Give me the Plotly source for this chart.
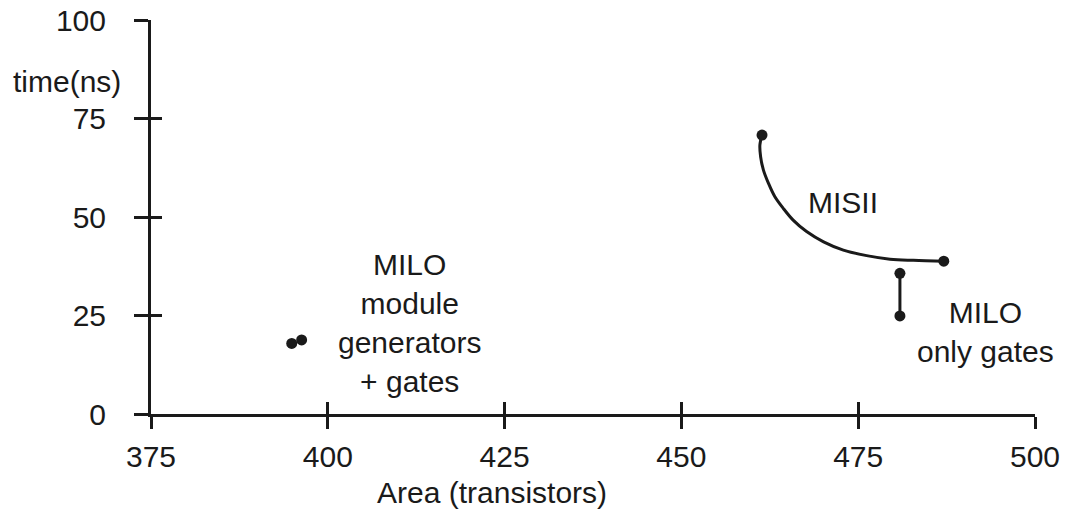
import plotly.graph_objects as go

# ---- data ----
x_ticks = [375, 400, 425, 450, 475, 500]
y_ticks = [0, 25, 50, 75, 100]

milo_mod_x = [394.9, 396.3]
milo_mod_y = [17.9, 18.8]

misii_x = [461.4, 461.1, 461.2, 461.6, 462.3, 463.2, 464.4, 465.8, 467.7,
           470.1, 472.9, 476.2, 479.5, 482.8, 487.1]
misii_y = [70.8, 68.3, 65.3, 61.9, 58.6, 55.2, 52.2, 49.2, 46.3,
           43.7, 41.6, 40.2, 39.3, 39.0, 38.8]

milo_gates_x = [480.9, 480.9]
milo_gates_y = [35.7, 24.9]

INK = "#1a1a1a"
FONT = "Liberation Sans, Arial, Helvetica, sans-serif"
FS = 30

fig = go.Figure()

fig.add_trace(go.Scatter(x=milo_mod_x, y=milo_mod_y, mode="markers",
                         marker=dict(size=11, color=INK), showlegend=False,
                         cliponaxis=False))
fig.add_trace(go.Scatter(x=misii_x, y=misii_y, mode="lines",
                         line=dict(color=INK, width=3, shape="spline"),
                         showlegend=False))
fig.add_trace(go.Scatter(x=[misii_x[0], misii_x[-1]], y=[misii_y[0], misii_y[-1]],
                         mode="markers", marker=dict(size=11, color=INK),
                         showlegend=False))
fig.add_trace(go.Scatter(x=milo_gates_x, y=milo_gates_y, mode="lines+markers",
                         line=dict(color=INK, width=3),
                         marker=dict(size=11, color=INK), showlegend=False))
# empty trace on overlay axes (for inner tick halves)
fig.add_trace(go.Scatter(x=[None], y=[None], xaxis="x2", yaxis="y2",
                         showlegend=False, hoverinfo="skip"))

ann = dict(showarrow=False, xanchor="center", yanchor="middle", font=dict(size=FS))

fig.update_layout(
    width=1070, height=524,
    margin=dict(l=151, r=35, t=20, b=110, autoexpand=False),
    paper_bgcolor="white", plot_bgcolor="white",
    font=dict(family=FONT, size=FS, color=INK),
    xaxis=dict(range=[375, 500], tickvals=x_ticks, ticktext=[str(v) for v in x_ticks],
               automargin=False, ticklabeloverflow="allow",
               showgrid=False, zeroline=False, showline=True, linecolor=INK, linewidth=3,
               ticks="outside", ticklen=12, tickwidth=2.5, tickcolor=INK,
               tickfont=dict(size=FS, family=FONT, color=INK), ticklabelstandoff=2),
    yaxis=dict(range=[0, 100], tickvals=y_ticks, ticktext=[str(v) for v in y_ticks],
               automargin=False, ticklabeloverflow="allow",
               showgrid=False, zeroline=False, showline=True, linecolor=INK, linewidth=3,
               ticks="outside", ticklen=14, tickwidth=2.5, tickcolor=INK,
               tickfont=dict(size=FS, family=FONT, color=INK), ticklabelstandoff=22),
    xaxis2=dict(range=[375, 500], tickvals=x_ticks, overlaying="x", anchor="y",
                automargin=False,
                side="bottom", showgrid=False, zeroline=False, showline=False,
                ticks="inside", ticklen=12, tickwidth=2.5, tickcolor=INK,
                showticklabels=False),
    yaxis2=dict(range=[0, 100], tickvals=y_ticks, overlaying="y", anchor="x",
                automargin=False,
                side="left", showgrid=False, zeroline=False, showline=False,
                ticks="inside", ticklen=11, tickwidth=2.5, tickcolor=INK,
                showticklabels=False),
    annotations=[
        dict(text="MISII", x=472.8, y=53.6, xref="x", yref="y", **ann),
        dict(text="MILO<br>only gates", x=493.0, y=20.8, xref="x", yref="y", **ann),
        dict(text="MILO<br>module<br>generators<br>+ gates", x=411.6, y=23.1,
             xref="x", yref="y", **ann),
        dict(text="Area (transistors)", x=0.386, y=-0.198, xref="paper", yref="paper",
             **ann),
        dict(text="time(ns)", x=-0.095, y=0.843, xref="paper", yref="paper", **ann),
    ],
)

# remove the page's default 8px body margin so the figure fills the window exactly
fig.write_html("out.html",
               config={"displayModeBar": False},
               post_script="document.body.style.margin='0';document.body.style.overflow='hidden';")
